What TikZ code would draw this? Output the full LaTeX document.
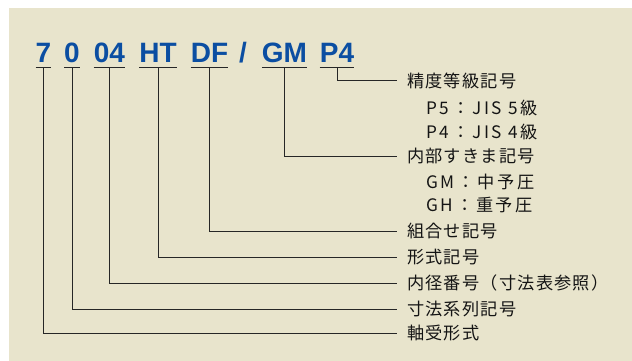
\documentclass[tikz,border=0pt]{standalone}
\usepackage{fontspec}
\setmainfont{Liberation Sans}
\newfontfamily\cjk[LetterSpace=7]{Noto Sans CJK JP}
\newfontfamily\cjkwide[LetterSpace=16]{Noto Sans CJK JP}
\definecolor{panel}{HTML}{E8E4CC}
\definecolor{codeblue}{HTML}{0B4EA2}
\begin{document}
\begin{tikzpicture}[x=1pt,y=-1pt,
  code/.style={font=\fontsize{28}{28}\selectfont\bfseries, text=codeblue, anchor=base, inner sep=0},
  lab/.style={font=\cjk\fontsize{17.2}{17.2}\selectfont, text=black!92, anchor=west, inner xsep=10pt, inner ysep=0},
  sublab/.style={font=\cjkwide\fontsize{17.2}{17.2}\selectfont, text=black!92, anchor=west, inner sep=0},
  conn/.style={draw=black!85, line width=1pt},
  uline/.style={draw=black!85, line width=1pt}]
\useasboundingbox (0,0) rectangle (632,361);
\fill[white] (0,0) rectangle (632,361);
\fill[panel] (9,8) rectangle (632,361);
% code tokens
\node[code] (t7)  at (43.5,63) {7};
\node[code] (t0)  at (72,63) {0};
\node[code] (t04) at (109.5,63) {04};
\node[code] (tHT) at (158,63) {HT};
\node[code] (tDF) at (209.5,63) {DF};
\node[code] (tsl) at (243,63) {/};
\node[code] (tGM) at (284.5,63) {GM};
\node[code] (tP4) at (337,63) {P4};
\foreach \n in {t7,t0,t04,tHT,tDF,tGM,tP4}
  \draw[uline] ([yshift=-5pt]\n.base west) -- ([yshift=-5pt]\n.base east);
% labels
\node[lab] (lP4) at (397,81) {精度等級記号};
\node[sublab] (sP5) at (426,108) {P5：JIS 5級};
\node[sublab] (sP4) at (426,132) {P4：JIS 4級};
\node[lab] (lGM) at (397,156) {内部すきま記号};
\node[sublab] (sGM) at (426,182) {GM：中予圧};
\node[sublab] (sGH) at (426,205) {GH：重予圧};
\node[lab] (lDF) at (397,231) {組合せ記号};
\node[lab] (lHT) at (397,257) {形式記号};
\node[lab] (l04) at (397,283) {内径番号（寸法表参照）};
\node[lab] (l0)  at (397,309) {寸法系列記号};
\node[lab] (l7)  at (397,333) {軸受形式};
% connectors
\draw[conn] ([yshift=-5pt]tP4.base) |- (lP4.west);
\draw[conn] ([yshift=-5pt]tGM.base) |- (lGM.west);
\draw[conn] ([yshift=-5pt]tDF.base) |- (lDF.west);
\draw[conn] ([yshift=-5pt]tHT.base) |- (lHT.west);
\draw[conn] ([yshift=-5pt]t04.base) |- (l04.west);
\draw[conn] ([yshift=-5pt]t0.base)  |- (l0.west);
\draw[conn] ([yshift=-5pt]t7.base)  |- (l7.west);
\end{tikzpicture}
\end{document}
